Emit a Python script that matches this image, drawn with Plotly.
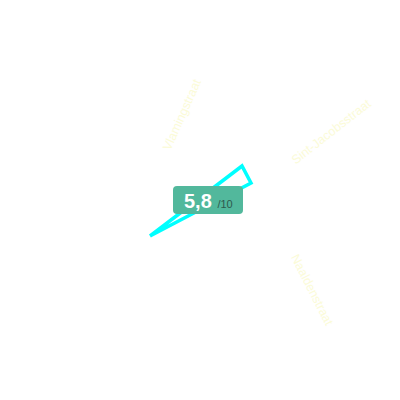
import plotly.graph_objects as go

# route segment (local map coordinates, y grows downward)
route_x = [142, 234, 243, 142]
route_y = [228, 158, 175, 228]

# street labels: name, x, y, angle
street_names = ["Vlamingstraat", "Sint-Jacobsstraat", "Naaldenstraat"]
street_x = [174, 323, 304]
street_y = [107, 124, 282]
street_angle = [-66, -38, 63]

# score badge
score = "5,8"
score_max = "/10"
badge_x = [165, 235]
badge_y = [178, 206]


def rounded_rect(x0, y0, x1, y1, r):
    return (f"M {x0+r},{y0} L {x1-r},{y0} Q {x1},{y0} {x1},{y0+r} "
            f"L {x1},{y1-r} Q {x1},{y1} {x1-r},{y1} L {x0+r},{y1} "
            f"Q {x0},{y1} {x0},{y1-r} L {x0},{y0+r} Q {x0},{y0} {x0+r},{y0} Z")


fig = go.Figure()
fig.add_trace(go.Scatter(x=route_x, y=route_y, mode="lines",
                         line=dict(color="#00ffff", width=3.5),
                         hoverinfo="skip", showlegend=False))

for name, sx, sy, ang in zip(street_names, street_x, street_y, street_angle):
    fig.add_annotation(x=sx, y=sy, text=name, showarrow=False, textangle=ang,
                       font=dict(family="Liberation Sans", size=12.5, color="#fbfbd8"))

fig.add_shape(type="path", path=rounded_rect(badge_x[0], badge_y[0], badge_x[1], badge_y[1], 4),
              fillcolor="#52b89c", line=dict(width=0), layer="above")
fig.add_annotation(x=(badge_x[0] + badge_x[1]) / 2, y=(badge_y[0] + badge_y[1]) / 2 + 1,
                   text=f"<b>{score}</b> <span style='font-size:11px;color:#2e5a4e'>{score_max}</span>",
                   showarrow=False, font=dict(family="Liberation Sans", size=20, color="white"))

fig.update_xaxes(range=[0, 400], visible=False)
fig.update_yaxes(range=[400, 0], visible=False)
fig.update_layout(width=400, height=400, margin=dict(l=0, r=0, t=0, b=0),
                  plot_bgcolor="white", paper_bgcolor="white")
fig.write_html("out.html")
